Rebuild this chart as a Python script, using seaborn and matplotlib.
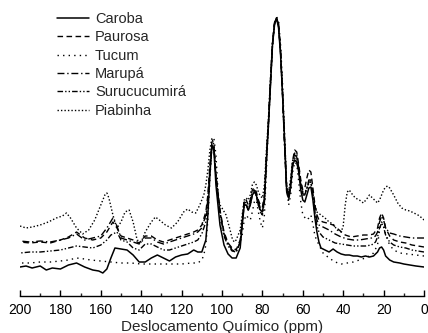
import matplotlib
matplotlib.use("Agg")
import matplotlib.pyplot as plt
import seaborn as sns
import pandas as pd
from matplotlib.ticker import MultipleLocator

# ---- data (ppm, intensity in arbitrary units) ----
caroba = [(200,33),(197,34),(194,32),(190,34),(187,30),(184,32),(180,31),(176,35),(172,37),(168,33),
          (164,30),(161,29),(159,27),(157,31),(155,42),(153,52),(150,51),(147,50),(144,45),(141,38),
          (138,38),(135,42),(132,45),(129,42),(126,39),(123,43),(120,45),(117,46),(114,50),(112,48),
          (110,48),(108,60),(107,85),(106,125),(105,155),(104,150),(103,115),(101,75),(99,55),(97,46),
          (95,42),(93,42),(91,52),(90,75),(89,95),(88,95),(87,90),(86,95),(85,105),(84,108),(83,105),
          (82,95),(81,90),(80,88),(79,100),(78,140),(77,175),(76,215),(75,255),(74,275),(73,282),
          (72,272),(71,245),(70,205),(69,160),(68,110),(67,102),(66,115),(65,135),(64,140),(63,138),
          (62,128),(61,110),(60,100),(59,98),(58,105),(57,112),(56,113),(55,100),(54,82),(53,68),
          (52,58),(51,52),(49,50),(47,48),(45,51),(43,48),(41,46),(39,45),(37,45),(35,44),(33,44),
          (31,43),(29,44),(27,43),(25,44),(23,48),(22,52),(21,53),(20,50),(19,44),(17,40),(15,38),
          (12,37),(10,36),(7,35),(4,34),(0,33)]

paurosa = [(200,58),(195,57),(190,58),(185,57),(180,60),(176,63),(172,68),(168,62),(164,60),(160,62),
           (157,68),(154,78),(152,72),(150,64),(147,62),(144,60),(141,57),(138,64),(135,64),(132,60),
           (129,58),(126,60),(123,62),(120,64),(117,66),(114,68),(112,70),(110,75),(108,88),(107,105),
           (106,135),(105,158),(104,155),(103,125),(101,90),(99,68),(97,57),(95,52),(93,50),(91,60),
           (90,80),(89,100),(88,100),(87,95),(86,100),(85,110),(84,112),(83,108),(82,100),(81,95),
           (80,93),(79,105),(78,145),(77,180),(76,220),(75,257),(74,277),(73,282),(72,275),(71,248),
           (70,205),(69,155),(68,112),(67,104),(66,118),(65,140),(64,150),(63,148),(62,135),(61,120),
           (60,110),(59,112),(58,122),(57,130),(56,128),(55,112),(54,95),(53,85),(52,80),(50,78),
           (48,77),(45,75),(42,70),(39,65),(36,63),(33,64),(30,65),(27,65),(25,66),(23,72),(22,82),
           (21,87),(20,82),(19,72),(17,64),(15,60),(12,58),(9,57),(6,55),(3,54),(0,53)]

tucum = [(200,37),(195,37),(190,38),(185,38),(180,39),(176,40),(172,42),(168,41),(165,40),(160,39),
         (155,38),(150,37),(145,37),(140,36),(135,36),(130,36),(125,36),(120,36),(115,37),(112,37),
         (110,40),(109,45),(108,55),(107,80),(106,120),(105,155),(104,162),(103,145),(102,110),(101,85),
         (100,72),(98,60),(96,53),(94,50),(92,52),(90,65),(89,80),(88,85),(87,82),(86,80),(85,88),
         (84,98),(83,100),(82,88),(81,78),(80,72),(79,85),(78,130),(77,175),(76,215),(75,255),(74,276),
         (73,283),(72,280),(71,255),(70,215),(69,165),(68,115),(67,95),(66,105),(65,128),(64,138),
         (63,136),(62,118),(61,98),(60,85),(58,80),(57,82),(56,85),(55,76),(54,64),(52,55),(50,47),
         (47,42),(44,38),(41,36),(38,37),(35,38),(32,40),(29,42),(27,44),(25,47),(23,55),(22,70),
         (21,78),(20,75),(19,65),(17,55),(15,50),(12,47),(8,46),(4,45),(0,44)]

marupa = [(200,59),(195,58),(190,59),(185,58),(180,60),(176,62),(172,66),(168,60),(164,62),(160,64),
          (157,72),(154,82),(152,74),(150,62),(147,60),(144,58),(141,56),(138,62),(135,62),(132,58),
          (129,56),(126,58),(123,60),(120,62),(117,64),(114,66),(112,68),(110,72),(108,85),(107,100),
          (106,130),(105,155),(104,152),(103,122),(101,88),(99,66),(97,56),(95,50),(93,48),(91,58),
          (90,78),(89,98),(88,97),(87,93),(86,98),(85,108),(84,110),(83,106),(82,98),(81,92),(80,90),
          (79,102),(78,142),(77,178),(76,218),(75,256),(74,277),(73,282),(72,275),(71,247),(70,203),
          (69,153),(68,108),(67,100),(66,112),(65,135),(64,145),(63,143),(62,130),(61,115),(60,105),
          (59,105),(58,112),(57,120),(56,120),(55,106),(54,90),(53,80),(52,75),(50,73),(47,70),(44,66),
          (41,63),(38,61),(35,60),(32,60),(29,61),(26,62),(24,64),(23,68),(22,78),(21,84),(20,80),
          (19,72),(17,67),(15,66),(12,64),(9,63),(6,62),(3,62),(0,62)]

surucucumira = [(200,47),(195,48),(190,48),(185,49),(180,50),(176,52),(172,54),(168,53),(164,52),
                (160,55),(157,60),(155,65),(152,68),(150,60),(147,58),(144,52),(141,50),(138,56),
                (135,56),(132,53),(129,50),(126,50),(123,52),(120,54),(117,56),(114,58),(112,60),
                (110,66),(108,78),(107,98),(106,128),(105,153),(104,152),(103,125),(101,88),(99,64),
                (97,54),(95,49),(93,48),(91,57),(90,76),(89,95),(88,95),(87,90),(86,95),(85,105),
                (84,108),(83,104),(82,95),(81,88),(80,85),(79,98),(78,140),(77,176),(76,216),(75,255),
                (74,277),(73,282),(72,276),(71,248),(70,204),(69,154),(68,110),(67,102),(66,115),
                (65,138),(64,147),(63,145),(62,132),(61,117),(60,106),(59,106),(58,112),(57,118),
                (56,118),(55,104),(54,86),(53,74),(52,68),(50,63),(47,60),(44,57),(41,56),(38,55),
                (35,54),(32,54),(29,54),(26,55),(24,58),(23,63),(22,72),(21,77),(20,73),(19,65),
                (17,58),(15,55),(12,53),(9,52),(6,50),(3,49),(0,48)]

piabinha = [(200,74),(197,72),(194,73),(190,75),(186,78),(182,82),(179,84),(177,87),(175,82),(172,72),
            (169,66),(166,70),(163,80),(160,95),(158,105),(157,107),(156,102),(154,85),(152,72),(150,78),
            (148,88),(146,90),(144,78),(142,60),(140,58),(138,68),(135,78),(133,83),(131,80),(128,75),
            (125,72),(122,78),(119,88),(117,91),(115,88),(113,87),(111,95),(109,105),(108,115),(107,130),
            (106,150),(105,162),(104,155),(103,125),(102,105),(101,95),(100,92),(98,85),(96,70),(95,62),
            (94,58),(93,60),(91,70),(90,85),(89,100),(88,102),(87,100),(86,105),(85,115),(84,118),
            (83,115),(82,108),(81,104),(80,102),(79,115),(78,150),(77,182),(76,222),(75,258),(74,277),
            (73,282),(72,275),(71,250),(70,208),(69,160),(68,115),(67,108),(66,122),(65,140),(64,142),
            (63,138),(62,128),(61,115),(60,108),(58,110),(57,117),(56,118),(55,105),(54,95),(53,88),
            (51,85),(49,82),(47,78),(45,76),(43,70),(41,68),(40,74),(39,95),(38,108),(37,110),(36,107),
            (34,102),(32,100),(30,97),(28,102),(27,105),(26,103),(24,99),(23,97),(22,100),(21,105),
            (20,110),(19,113),(18,114),(17,112),(15,105),(13,97),(11,92),(9,90),(7,89),(5,87),(3,85),
            (1,82),(0,80)]

series_names = ["Caroba", "Paurosa", "Tucum", "Marupá", "Surucucumirá", "Piabinha"]
series_data = [caroba, paurosa, tucum, marupa, surucucumira, piabinha]
x_ticks = [200, 180, 160, 140, 120, 100, 80, 60, 40, 20, 0]
x_label = "Deslocamento Químico (ppm)"

# ---- styles ----
line_styles = {
    "Caroba": "-",
    "Paurosa": (0, (4, 2.5)),
    "Tucum": (0, (1, 3)),
    "Marupá": (0, (5, 2, 1, 2)),
    "Surucucumirá": (0, (4, 1.5, 1, 1.5, 1, 1.5)),
    "Piabinha": (0, (1, 1.5)),
}
line_widths = {"Caroba": 1.1, "Paurosa": 1.0, "Tucum": 1.0, "Marupá": 1.0,
               "Surucucumirá": 1.0, "Piabinha": 1.0}

sns.set_style("white")
plt.rcParams["font.family"] = ["Liberation Sans", "DejaVu Sans"]

rows = []
for name, pts in zip(series_names, series_data):
    for p, v in pts:
        rows.append({"ppm": p, "intensidade": v, "amostra": name})
df = pd.DataFrame(rows)

fig = plt.figure(figsize=(4.28, 3.33), dpi=100)
ax = fig.add_axes([20 / 428, 37 / 333, 404 / 428, 291 / 333])

for name in series_names:
    sub = df[df["amostra"] == name]
    sns.lineplot(data=sub, x="ppm", y="intensidade", ax=ax, color="black",
                 linestyle=line_styles[name], linewidth=line_widths[name],
                 estimator=None, label=name)

ax.set_xlim(200, 0)
ax.set_ylim(4, 295)
ax.set_xticks(x_ticks)
ax.xaxis.set_minor_locator(MultipleLocator(10))
ax.set_yticks([])
ax.set_ylabel("")
ax.set_xlabel(x_label, fontsize=11, labelpad=2)
for s in ["left", "right", "top"]:
    ax.spines[s].set_visible(False)
ax.spines["bottom"].set_color("black")
ax.spines["bottom"].set_linewidth(1.0)
ax.tick_params(axis="x", which="major", direction="in", length=4, width=1,
               labelsize=10, pad=5, colors="black", bottom=True)
ax.tick_params(axis="x", which="minor", direction="in", length=2.5, width=1,
               bottom=True)

leg = ax.legend(loc="upper left", bbox_to_anchor=(57 / 428, 1 - 12 / 333),
                bbox_transform=fig.transFigure, frameon=False, fontsize=10.5,
                handlelength=2.2, handletextpad=0.4, labelspacing=0.3,
                borderpad=0, borderaxespad=0)

fig.savefig("out.png", dpi=100)
